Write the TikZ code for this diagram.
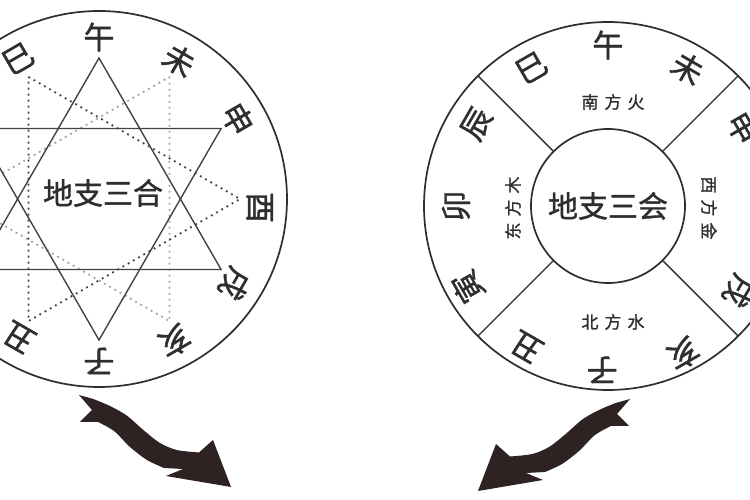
\documentclass[tikz,border=0pt]{standalone}
\usepackage{fontspec}
\newfontfamily\cjk[FakeBold=1.2]{Noto Sans CJK SC}
\definecolor{ink}{HTML}{2E2E2E}
\definecolor{arrowbrown}{HTML}{2E2222}
\tikzset{pics/swoosh/.style={code={
  \fill [arrowbrown] (79,105) -- plot [smooth] coordinates {(93.3,101) (110,94) (126.7,84.5) (143.3,70) (160,57) (176.7,50) (199,47.5)}
    -- (213,60) -- (231,13) -- (166,24) -- (183,31)
    -- plot [smooth] coordinates {(164,32) (147,40) (130,53) (114,69) (98,78)}
    -- (80,78) -- (92,90) -- cycle;
}}}
\begin{document}
\begin{tikzpicture}[x=1pt,y=1pt,
  ring/.style={draw=ink,line width=1.7pt},
  divider/.style={draw=ink,line width=1.4pt},
  branch/.style={font=\cjk\fontsize{31}{31}\selectfont,inner sep=0pt,text=ink},
  title/.style={font=\cjk\fontsize{30}{30}\selectfont,inner sep=0pt,text=ink},
  quarter/.style={font=\cjk\fontsize{17}{17}\selectfont,inner sep=0pt,text=ink},
  triple/.style={draw=ink!90,line width=1.4pt},
  dotline/.style={draw=ink!90,line width=1.8pt,dash pattern=on 1.8pt off 4.2pt},
  faintdots/.style={draw=ink!45,line width=1.8pt,dash pattern=on 1.8pt off 4.2pt}]
\useasboundingbox (0,0) rectangle (750,500);
\fill [white] (0,0) rectangle (750,500);
\clip (0,0) rectangle (750,500);

\begin{scope}[shift={(99,301)}]
\draw [ring] (0,0) circle (188);
\coordinate (Lwu) at (90:141);
\coordinate (Lwei) at (60:141);
\coordinate (Lshen) at (30:141);
\coordinate (Lyou) at (0:141);
\coordinate (Lxu) at (-30:141);
\coordinate (Lhai) at (-60:141);
\coordinate (Lzi) at (-90:141);
\coordinate (Lchou) at (-120:141);
\coordinate (Lyin) at (-150:141);
\coordinate (Lmao) at (180:141);
\coordinate (Lchen) at (150:141);
\coordinate (Lsi) at (120:141);
\draw [faintdots] (Lwei) -- (Lhai) -- (Lmao) -- cycle;
\draw [dotline] (Lsi) -- (Lyou) -- (Lchou) -- cycle;
\draw [triple] (Lwu) -- (Lxu) -- (Lyin) -- cycle;
\draw [triple] (Lshen) -- (Lzi) -- (Lchen) -- cycle;
\node [branch] (Lwu-t) at (90:162) {午};
\node [branch, rotate=-30] (Lwei-t) at (60:160) {未};
\node [branch, rotate=-60] (Lshen-t) at (30:160) {申};
\node [branch, rotate=-90] (Lyou-t) at (-3:161) {酉};
\node [branch, rotate=-120] (Lxu-t) at (-32:160) {戌};
\node [branch, rotate=-150] (Lhai-t) at (-62:161) {亥};
\node [branch, rotate=180] (Lzi-t) at (-90:162) {子};
\node [branch, rotate=150] (Lchou-t) at (-120:160) {丑};
\node [branch, rotate=30] (Lsi-t) at (120:162) {巳};
\node [title] (Lname) at (4,6) {地支三合};
\end{scope}

\begin{scope}[shift={(608,294)}]
\draw [ring] (0,0) circle (184);
\node [ring, circle, minimum size=154pt, inner sep=0pt, title] (hub) at (0,0) {地支三会};
\draw [divider] (hub.45) -- (45:184);
\draw [divider] (hub.135) -- (135:184);
\draw [divider] (hub.225) -- (225:184);
\draw [divider] (hub.315) -- (315:184);
\node [branch] (Rwu-t) at (90:161) {午};
\node [branch, rotate=-30] (Rwei-t) at (60:159) {未};
\node [branch, rotate=-60] (Rshen-t) at (30:156) {申};
\node [branch, rotate=-120] (Rxu-t) at (-33:156) {戌};
\node [branch, rotate=-150] (Rhai-t) at (-63:166) {亥};
\node [branch, rotate=180] (Rzi-t) at (-92:164) {子};
\node [branch, rotate=150] (Rchou-t) at (-120:163) {丑};
\node [branch, rotate=120] (Ryin-t) at (-150:162) {寅};
\node [branch, rotate=90] (Rmao-t) at (180:152) {卯};
\node [branch, rotate=60] (Rchen-t) at (148:155) {辰};
\node [branch, rotate=30] (Rsi-t) at (119:158) {巳};
\node [quarter] (south) at (5,104) {南\hspace{6pt}方\hspace{6pt}火};
\node [quarter, rotate=90] (east) at (-95,-2) {东\hspace{6pt}方\hspace{6pt}木};
\node [quarter, rotate=-90] (west) at (101,-2) {西\hspace{6pt}方\hspace{6pt}金};
\node [quarter] (north) at (5,-116) {北\hspace{6pt}方\hspace{6pt}水};
\end{scope}

\pic (leftswoosh) at (0,0) {swoosh};
\pic [xscale=-1] (rightswoosh) at (709,-4) {swoosh};
\end{tikzpicture}
\end{document}
